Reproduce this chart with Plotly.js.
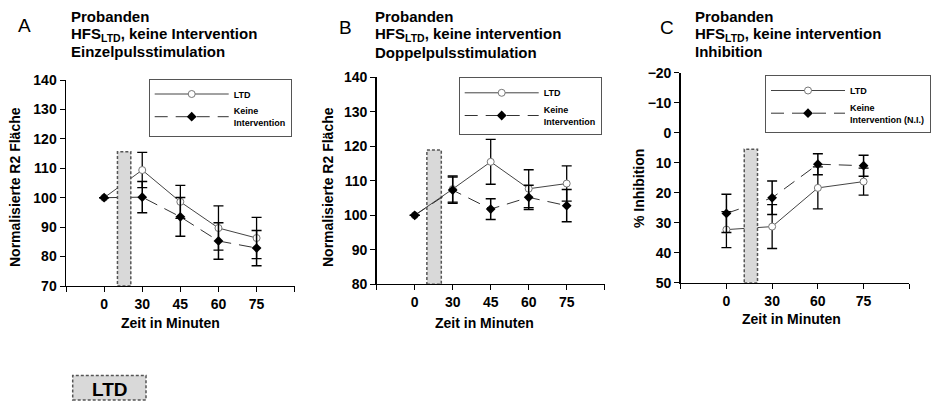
<!DOCTYPE html>
<html>
<head>
<meta charset="utf-8">
<script src="https://cdn.plot.ly/plotly-3.0.1.min.js"></script>
<style>
html,body{margin:0;padding:0;background:#fff;}
#chart{width:933px;height:401px;}
</style>
</head>
<body>
<div id="chart"></div>
<script>
// ---------- data ----------
const timeAB = ['0', '30', '45', '60', '75'];
const timeC = ['0', '30', '60', '75'];

const ltdA = [100, 109.4, 98.6, 89.7, 86.3];
const ltdErrA = [null, 6, 5.6, 7.5, 7];
const keineA = [100, 100.2, 93.5, 85.3, 82.9];
const keineErrA = [null, 5.3, 6.6, 6.2, 6];

const ltdB = [100, 107.6, 115.5, 107.7, 109.2];
const ltdErrB = [null, 3.8, 6.5, 5.5, 5.1];
const keineB = [100, 107.3, 101.8, 105.2, 102.8];
const keineErrB = [null, 3.8, 3, 3.5, 4.7];

const ltdC = [32.3, 31.3, 18.4, 16.3];
const ltdErrC = [6, 7.3, 7, 4.5];
const keineC = [26.9, 21.7, 10.5, 11];
const keineErrC = [6.4, 5.6, 3.5, 3.5];

const nameLTD = 'LTD';
const nameKeine = 'Keine<br>Intervention';
const nameKeineC = 'Keine<br>Intervention (N.I.)';

// ---------- helpers ----------
const W = 933, H = 401;
const px = v => v / W;
const py = v => 1 - v / H;
const FONT = 'Liberation Sans, Arial, Helvetica, sans-serif';

function ltdTrace(x, y, err, xa, ya, lg) {
  return {
    x: x, y: y, type: 'scatter', mode: 'lines+markers', name: nameLTD,
    xaxis: xa, yaxis: ya, legend: lg,
    line: {color: '#444', width: 1},
    marker: {symbol: 'circle', size: 7, color: 'white', line: {color: '#777', width: 1}},
    error_y: {type: 'data', array: err, visible: true, color: 'black', thickness: 1.3, width: 5}
  };
}
function keineTrace(x, y, err, xa, ya, lg, nm) {
  return {
    x: x, y: y, type: 'scatter', mode: 'lines+markers', name: nm,
    xaxis: xa, yaxis: ya, legend: lg,
    line: {color: '#333', width: 1, dash: '13px,8px'},
    marker: {symbol: 'diamond', size: 7.5, color: 'black'},
    error_y: {type: 'data', array: err, visible: true, color: 'black', thickness: 1.5, width: 5}
  };
}

const data = [
  ltdTrace(timeAB, ltdA, ltdErrA, 'x', 'y', 'legend'),
  keineTrace(timeAB, keineA, keineErrA, 'x', 'y', 'legend', nameKeine),
  ltdTrace(timeAB, ltdB, ltdErrB, 'x2', 'y2', 'legend2'),
  keineTrace(timeAB, keineB, keineErrB, 'x2', 'y2', 'legend2', nameKeine),
  ltdTrace(timeC, ltdC, ltdErrC, 'x3', 'y3', 'legend3'),
  keineTrace(timeC, keineC, keineErrC, 'x3', 'y3', 'legend3', nameKeineC)
];

const tickFont = {family: FONT, size: 14, color: 'black', weight: 'bold'};

function xAxis(dom, cats, anchor) {
  return {
    domain: dom, anchor: anchor, type: 'category',
    categoryorder: 'array', categoryarray: [' '].concat(cats, ['  ']),
    range: [0, cats.length + 1],
    showline: true, linecolor: 'black', linewidth: 1,
    ticks: 'outside', ticklen: 5, tickcolor: 'black', tickwidth: 1,
    showgrid: false, zeroline: false, tickfont: tickFont, fixedrange: true
  };
}
function yAxis(dom, range, anchor) {
  return {
    domain: dom, anchor: anchor, range: range, dtick: 10, tick0: 0,
    showline: true, linecolor: 'black', linewidth: 1.5,
    ticks: 'outside', ticklen: 5, tickcolor: 'black', tickwidth: 1,
    showgrid: false, zeroline: false, tickfont: tickFont, fixedrange: true
  };
}

function legendAt(xl, yt) {
  return {
    x: px(xl), y: py(yt), xanchor: 'left', yanchor: 'top',
    bgcolor: 'white', bordercolor: '#555', borderwidth: 1,
    font: {family: FONT, size: 9, color: 'black', weight: 'bold'},
    itemwidth: 74, tracegroupgap: 0, itemclick: false, itemdoubleclick: false
  };
}

const titleFont = {family: FONT, size: 15, color: 'black', weight: 'bold'};
function txt(text, x, y, font, extra) {
  return Object.assign({
    text: text, x: px(x), y: py(y), xref: 'paper', yref: 'paper',
    xanchor: 'left', yanchor: 'middle', showarrow: false, font: font
  }, extra || {});
}
const letterFont = {family: FONT, size: 19, color: 'black'};
const axTitleFont = {family: FONT, size: 14, color: 'black', weight: 'bold'};

const annotations = [
  txt('A', 24.5, 26, letterFont, {xanchor: 'center'}),
  txt('Probanden', 69, 16.7, titleFont),
  txt('HFS<sub>LTD</sub>, keine Intervention', 69, 34, titleFont),
  txt('Einzelpulsstimulation', 69, 51.7, titleFont),

  txt('B', 345, 27, letterFont, {xanchor: 'center'}),
  txt('Probanden', 372.5, 16.7, titleFont),
  txt('HFS<sub>LTD</sub>, keine intervention', 372.5, 34, titleFont),
  txt('Doppelpulsstimulation', 372.5, 52.7, titleFont),

  txt('C', 666.5, 27, letterFont, {xanchor: 'center'}),
  txt('Probanden', 692.5, 16.7, titleFont),
  txt('HFS<sub>LTD</sub>, keine intervention', 692.5, 34, titleFont),
  txt('Inhibition', 692.5, 51.7, titleFont),

  txt('Zeit in Minuten', 170, 322.5, axTitleFont, {xanchor: 'center'}),
  txt('Zeit in Minuten', 485, 322.5, axTitleFont, {xanchor: 'center'}),
  txt('Zeit in Minuten', 791, 318.5, axTitleFont, {xanchor: 'center'}),

  txt('Normalisierte R2 Fläche', 15, 187, axTitleFont, {xanchor: 'center', textangle: -90}),
  txt('Normalisierte R2 Fläche', 328, 187, axTitleFont, {xanchor: 'center', textangle: -90}),
  txt('% Inhibition', 639, 189, axTitleFont, {xanchor: 'center', textangle: -90}),

  txt('LTD', 109.5, 389, {family: FONT, size: 19, color: 'black', weight: 'bold'}, {xanchor: 'center'})
];

function ltdBar(xa, ya, x0, x1, y0, y1, layer) {
  return {
    type: 'rect', xref: xa, yref: ya, x0: x0, x1: x1, y0: y0, y1: y1,
    fillcolor: '#d9d9d9', line: {color: '#555', width: 1.5, dash: '3px,2px'}, layer: layer
  };
}

const shapes = [
  ltdBar('x', 'y', 1.35, 1.70, 70, 115.6, 'above'),
  ltdBar('x2', 'y2', 1.32, 1.70, 80, 118.9, 'below'),
  ltdBar('x3', 'y3', 1.39, 1.68, 50, 5.5, 'above'),
  {
    type: 'rect', xref: 'paper', yref: 'paper',
    x0: px(72.7), x1: px(146), y0: py(400), y1: py(375.5),
    fillcolor: '#d9d9d9', line: {color: '#555', width: 1.5, dash: '3px,2px'}
  }
];

const layout = {
  width: W, height: H,
  margin: {l: 0, r: 0, t: 0, b: 0},
  paper_bgcolor: 'white', plot_bgcolor: 'white',
  showlegend: true,
  font: {family: FONT, color: 'black'},
  xaxis: xAxis([px(66), px(294.7)], timeAB, 'y'),
  yaxis: yAxis([py(286), py(80)], [70, 140], 'x'),
  xaxis2: xAxis([px(376.7), px(604.7)], timeAB, 'y2'),
  yaxis2: yAxis([py(284.3), py(77.3)], [80, 140], 'x2'),
  xaxis3: xAxis([px(680.7), px(909.3)], timeC, 'y3'),
  yaxis3: yAxis([py(282.7), py(72.7)], [50, -20], 'x3'),
  legend: legendAt(148.7, 78.5),
  legend2: legendAt(458.7, 77.3),
  legend3: legendAt(765, 75),
  annotations: annotations,
  shapes: shapes
};

Plotly.newPlot('chart', data, layout, {staticPlot: true, displayModeBar: false});
</script>
</body>
</html>
